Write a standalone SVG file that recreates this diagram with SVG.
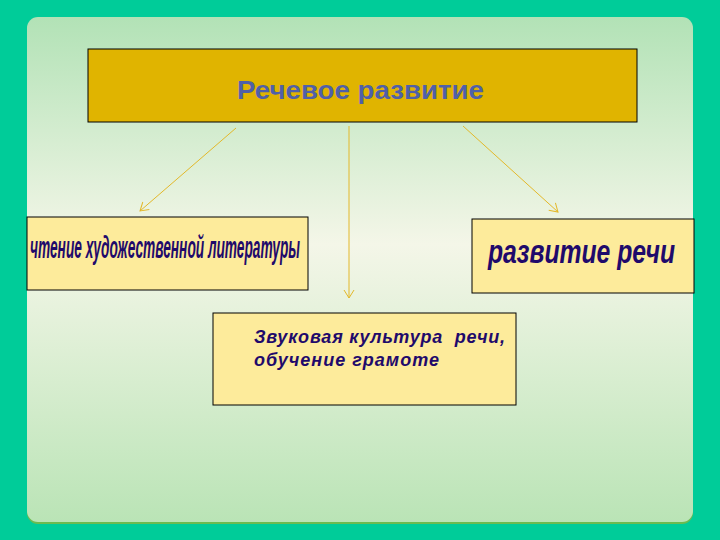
<svg xmlns="http://www.w3.org/2000/svg" width="720" height="540" viewBox="0 0 720 540">
<defs>
<linearGradient id="panel" x1="0" y1="0" x2="0" y2="1">
<stop offset="0" stop-color="#b2e2b6"/>
<stop offset="0.45" stop-color="#f4f6e8"/>
<stop offset="1" stop-color="#bae4b6"/>
</linearGradient>
<marker id="ah" markerWidth="12" markerHeight="12" refX="10" refY="6" orient="auto" markerUnits="userSpaceOnUse">
<path d="M2,1 L10,6 L2,11" fill="none" stroke="#e3b82a" stroke-width="1"/>
</marker>
<style>
.box{fill:#fdeb9b;stroke:#000;stroke-width:1}
.lbl{font-family:"Liberation Sans",Arial,sans-serif;font-weight:bold;font-style:italic;fill:#1f0a6b}
.conn{stroke:#e3b82a;stroke-width:1;fill:none;marker-end:url(#ah)}
</style>
</defs>
<rect width="720" height="540" fill="#00cc99"/>
<rect x="27" y="20" width="666" height="504" rx="11" fill="#6cbb50"/>
<rect x="27" y="17" width="666" height="505" rx="11" fill="url(#panel)"/>
<g id="connectors">
<line class="conn" x1="236" y1="128" x2="140" y2="211"/>
<line class="conn" x1="349" y1="126" x2="349" y2="298"/>
<line class="conn" x1="463" y1="126" x2="558" y2="212"/>
</g>
<g id="top">
<rect x="88" y="49" width="549" height="73" fill="#e0b400" stroke="#000" stroke-width="1"/>
<text x="237" y="99" font-family="'Liberation Sans',Arial,sans-serif" font-weight="bold" font-size="26" fill="#5060a8" textLength="247" lengthAdjust="spacingAndGlyphs">Речевое развитие</text>
</g>
<g id="left">
<rect class="box" x="27" y="217" width="281" height="73"/>
<text class="lbl" x="30" y="258" font-size="32" textLength="270" lengthAdjust="spacingAndGlyphs">чтение художественной литературы</text>
</g>
<g id="right">
<rect class="box" x="472" y="219" width="222" height="74"/>
<text class="lbl" transform="translate(488,263) scale(1,1.3)" x="0" y="0" font-size="25" textLength="187" lengthAdjust="spacingAndGlyphs">развитие речи</text>
</g>
<g id="bottom">
<rect class="box" x="213" y="313" width="303" height="92"/>
<text class="lbl" x="254" y="343" font-size="18" xml:space="preserve" textLength="251" lengthAdjust="spacing">Звуковая культура  речи,</text>
<text class="lbl" x="254" y="366" font-size="18" textLength="185" lengthAdjust="spacing">обучение грамоте</text>
</g>
</svg>
